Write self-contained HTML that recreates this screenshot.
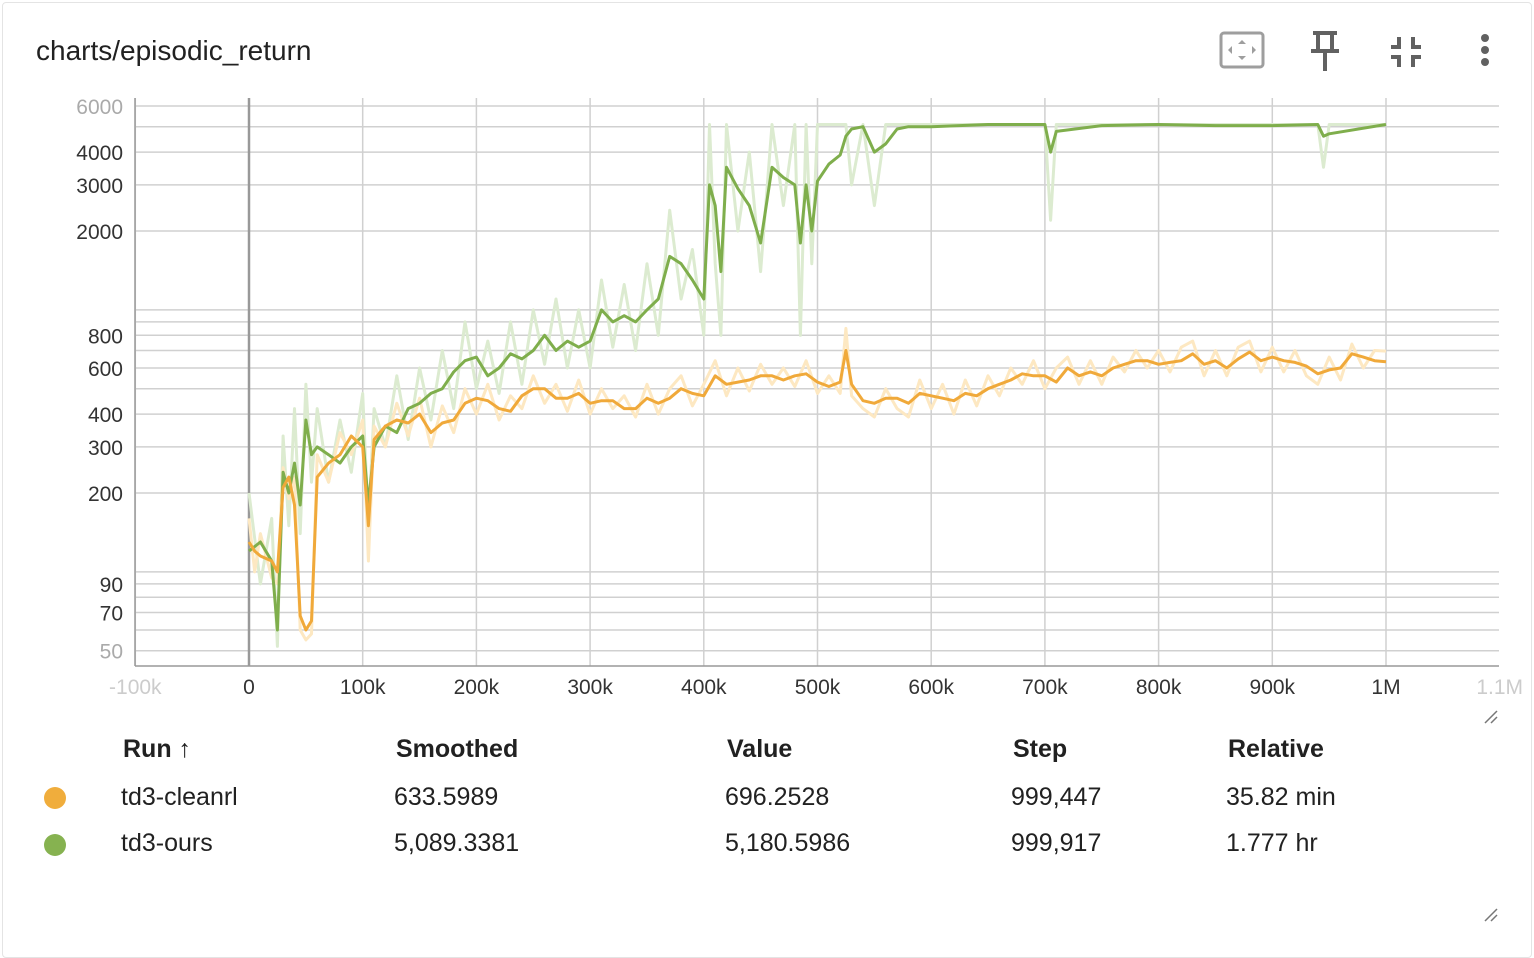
<!DOCTYPE html>
<html><head><meta charset="utf-8">
<style>
body{margin:0;background:#fff;font-family:"Liberation Sans",sans-serif;}
#card{position:absolute;left:2px;top:2px;width:1528px;height:954px;border:1px solid #e4e4e4;border-radius:4px;background:#fff;overflow:hidden;}
.title{position:absolute;left:33px;top:32px;font-size:28px;color:#212121;}
.th{position:absolute;top:732px;font-size:25px;font-weight:bold;color:#212121;}
.td{position:absolute;font-size:25px;color:#212121;}
.dot{position:absolute;width:22px;height:22px;border-radius:50%;}
</style></head><body>
<div id="card">
<div class="title">charts/episodic_return</div>
<svg style="position:absolute;left:1214px;top:26px" width="290" height="46">
 <g><rect x="4" y="4" width="42" height="34" rx="3" fill="none" stroke="#9e9e9e" stroke-width="3"/>
 <path d="M25 11l-4 4h8zM25 31l-4-4h8zM11 21l4-4v8zM39 21l-4-4v8z" fill="#9e9e9e"/></g>
 <g fill="#616161"><rect x="96" y="2" width="24" height="4"/><rect x="99" y="6" width="4" height="16"/><rect x="113" y="6" width="4" height="16"/><rect x="94" y="20" width="28" height="4"/><rect x="106" y="24" width="4" height="18"/></g>
 <g fill="#616161"><path d="M180 8h4v12h-10v-4h6zM194 8h4v8h6v4h-10zM174 26h10v12h-4v-8h-6zM194 26h10v4h-6v8h-4z"/></g>
 <g fill="#616161"><circle cx="268" cy="9" r="4"/><circle cx="268" cy="21" r="4"/><circle cx="268" cy="33" r="4"/></g>
</svg>
<svg id="chart" style="position:absolute;left:-3px;top:-3px" width="1534" height="720"></svg>
<div class="th" style="left:120px">Run ↑</div>
<div class="th" style="left:393px">Smoothed</div>
<div class="th" style="left:724px">Value</div>
<div class="th" style="left:1010px">Step</div>
<div class="th" style="left:1225px">Relative</div>
<div class="dot" style="left:41px;top:784px;background:#f0ad3c"></div>
<div class="td" style="left:118px;top:780px">td3-cleanrl</div>
<div class="td" style="left:391px;top:780px">633.5989</div>
<div class="td" style="left:722px;top:780px">696.2528</div>
<div class="td" style="left:1008px;top:780px">999,447</div>
<div class="td" style="left:1223px;top:780px">35.82 min</div>
<div class="dot" style="left:41px;top:831px;background:#86b250"></div>
<div class="td" style="left:118px;top:826px">td3-ours</div>
<div class="td" style="left:391px;top:826px">5,089.3381</div>
<div class="td" style="left:722px;top:826px">5,180.5986</div>
<div class="td" style="left:1008px;top:826px">999,917</div>
<div class="td" style="left:1223px;top:826px">1.777 hr</div>
<svg style="position:absolute;left:1478px;top:704px" width="20" height="20"><path d="M4 16L16 4M10 16L16 10" stroke="#777" stroke-width="1.5"/></svg>
<svg style="position:absolute;left:1478px;top:902px" width="20" height="20"><path d="M4 16L16 4M10 16L16 10" stroke="#777" stroke-width="1.5"/></svg>
</div>
<script>
const orangeSteps=[0,5,10,20,25,30,35,40,45,50,55,60,70,80,90,100,105,110,120,130,140,150,160,170,180,190,200,210,220,230,240,250,260,270,280,290,300,310,320,330,340,350,360,370,380,390,400,410,420,430,440,450,460,470,480,490,500,510,520,525,530,540,550,560,570,580,590,600,610,620,630,640,650,660,670,680,690,700,710,720,730,740,750,760,770,780,790,800,810,820,830,840,850,860,870,880,890,900,910,920,930,940,950,960,970,980,990,1000];
const orangeSmooth=[130,120,115,110,100,210,230,180,68,60,65,230,260,280,330,300,150,320,360,380,370,400,340,370,380,440,460,450,420,410,470,500,500,460,460,480,440,450,450,420,420,460,440,460,500,480,470,560,520,530,540,560,560,540,560,570,530,510,530,700,520,450,440,460,460,440,480,470,460,450,480,470,500,520,540,570,560,560,530,600,560,580,560,600,620,640,640,620,630,640,680,620,640,600,650,690,640,660,640,630,610,570,590,600,680,660,640,634];
const orangeRaw=[160,100,140,95,90,250,190,230,60,55,58,280,220,340,280,380,110,360,300,440,330,460,300,430,340,500,400,520,380,470,420,560,440,520,410,540,400,500,420,470,390,520,400,500,560,430,520,640,470,600,490,620,520,600,510,640,480,560,480,850,470,420,390,500,420,390,540,420,520,400,540,430,560,470,600,520,640,500,600,660,520,640,520,660,580,700,600,700,580,720,760,560,700,560,720,760,580,720,580,700,560,520,660,540,740,600,700,696];
const greenSteps=[0,10,20,25,30,35,40,45,50,55,60,70,80,90,100,105,110,120,130,140,150,160,170,180,190,200,210,220,230,240,250,260,270,280,290,300,310,320,330,340,350,360,370,380,390,400,405,410,415,420,430,440,450,460,470,480,485,490,495,500,510,520,525,530,540,550,560,570,580,600,650,700,705,710,750,800,850,900,940,945,950,1000];
const greenSmooth=[120,130,110,60,240,200,260,180,380,280,300,280,260,300,330,180,300,360,340,420,440,480,500,580,640,660,560,600,680,650,700,800,700,760,720,760,1000,900,950,900,1000,1100,1600,1500,1300,1100,3000,2500,1400,3500,2900,2500,1800,3500,3200,3000,1800,3000,2000,3100,3600,3900,4600,4900,5000,4000,4300,4900,5000,5000,5100,5100,4000,4800,5050,5100,5050,5050,5100,4600,4700,5100];
const greenRaw=[200,90,160,52,330,150,420,140,520,220,420,220,380,240,480,150,420,300,560,320,600,380,700,420,900,500,760,480,900,520,1000,620,1100,600,1000,600,1300,720,1250,700,1500,800,2400,1100,1700,800,5100,1500,800,5100,2000,4000,1400,5100,2500,5100,800,5100,1500,5100,5100,5100,5100,3000,5100,2500,5100,5100,5100,5100,5100,5100,2200,5100,5100,5100,5100,5100,5100,3500,5100,5100];
const yTicks=[50,70,90,200,300,400,600,800,2000,3000,4000,6000];
const yGrid=[50,60,70,80,90,100,200,300,400,500,600,700,800,900,1000,2000,3000,4000,5000,6000];
const xTicks=[-100,0,100,200,300,400,500,600,700,800,900,1000,1100];
const xTickLabels=['-100k','0','100k','200k','300k','400k','500k','600k','700k','800k','900k','1M','1.1M'];

const svg=document.getElementById('chart');
const NS='http://www.w3.org/2000/svg';
const X0=135,Y0=98,W=1364,H=568;
function xs(k){return 249+(k)*1.137;}
function ys(v){return 493-262*Math.log10(v/200);}
function mk(t,a){const e=document.createElementNS(NS,t);for(const k in a)e.setAttribute(k,a[k]);svg.appendChild(e);return e;}
const clip=mk('clipPath',{id:'pc'});
const cr=document.createElementNS(NS,'rect');cr.setAttribute('x',X0);cr.setAttribute('y',Y0);cr.setAttribute('width',W);cr.setAttribute('height',H);clip.appendChild(cr);
yGrid.forEach(v=>{const l=mk('line',{x1:X0,x2:X0+W,y1:ys(v),y2:ys(v),stroke:'#d0d0d0','stroke-width':1.5});

});
xTicks.forEach(k=>{const x=xs(k);if(x>X0&&x<X0+W){const l=mk('line',{x1:x,x2:x,y1:Y0,y2:Y0+H,stroke:k===0?'#999':'#d0d0d0','stroke-width':k===0?2.5:1.5});

}});
mk('line',{x1:X0,x2:X0,y1:Y0,y2:Y0+H,stroke:'#999','stroke-width':1.5});
mk('line',{x1:X0,x2:X0+W,y1:Y0+H,y2:Y0+H,stroke:'#999','stroke-width':1.5});
yTicks.forEach(v=>{const t=mk('text',{x:123,y:ys(v)+8,'text-anchor':'end','font-size':21,fill:(v===6000||v===50)?'#aaa':'#333','font-family':'Liberation Sans, sans-serif'});t.textContent=v;

});
xTicks.forEach((k,i)=>{const t=mk('text',{x:xs(k),y:694,'text-anchor':'middle','font-size':21,fill:(k<0||k>1000)?'#ccc':'#333','font-family':'Liberation Sans, sans-serif'});t.textContent=xTickLabels[i];

});
function line(steps,vals,color,w,name){const d=steps.map((s,i)=>(i?'L':'M')+xs(s).toFixed(1)+' '+ys(vals[i]).toFixed(1)).join(' ');
const p=mk('path',{d:d,fill:'none',stroke:color,'stroke-width':w,'clip-path':'url(#pc)','stroke-linejoin':'round'});

}
line(greenSteps,greenRaw,'#dcebd0',3,'td3-ours-raw-line');
line(orangeSteps,orangeRaw,'#fde8c2',3,'td3-cleanrl-raw-line');
line(greenSteps,greenSmooth,'#7fae4c',3,'td3-ours-smoothed-line');
line(orangeSteps,orangeSmooth,'#f0a93a',3,'td3-cleanrl-smoothed-line');
</script>
</body></html>
